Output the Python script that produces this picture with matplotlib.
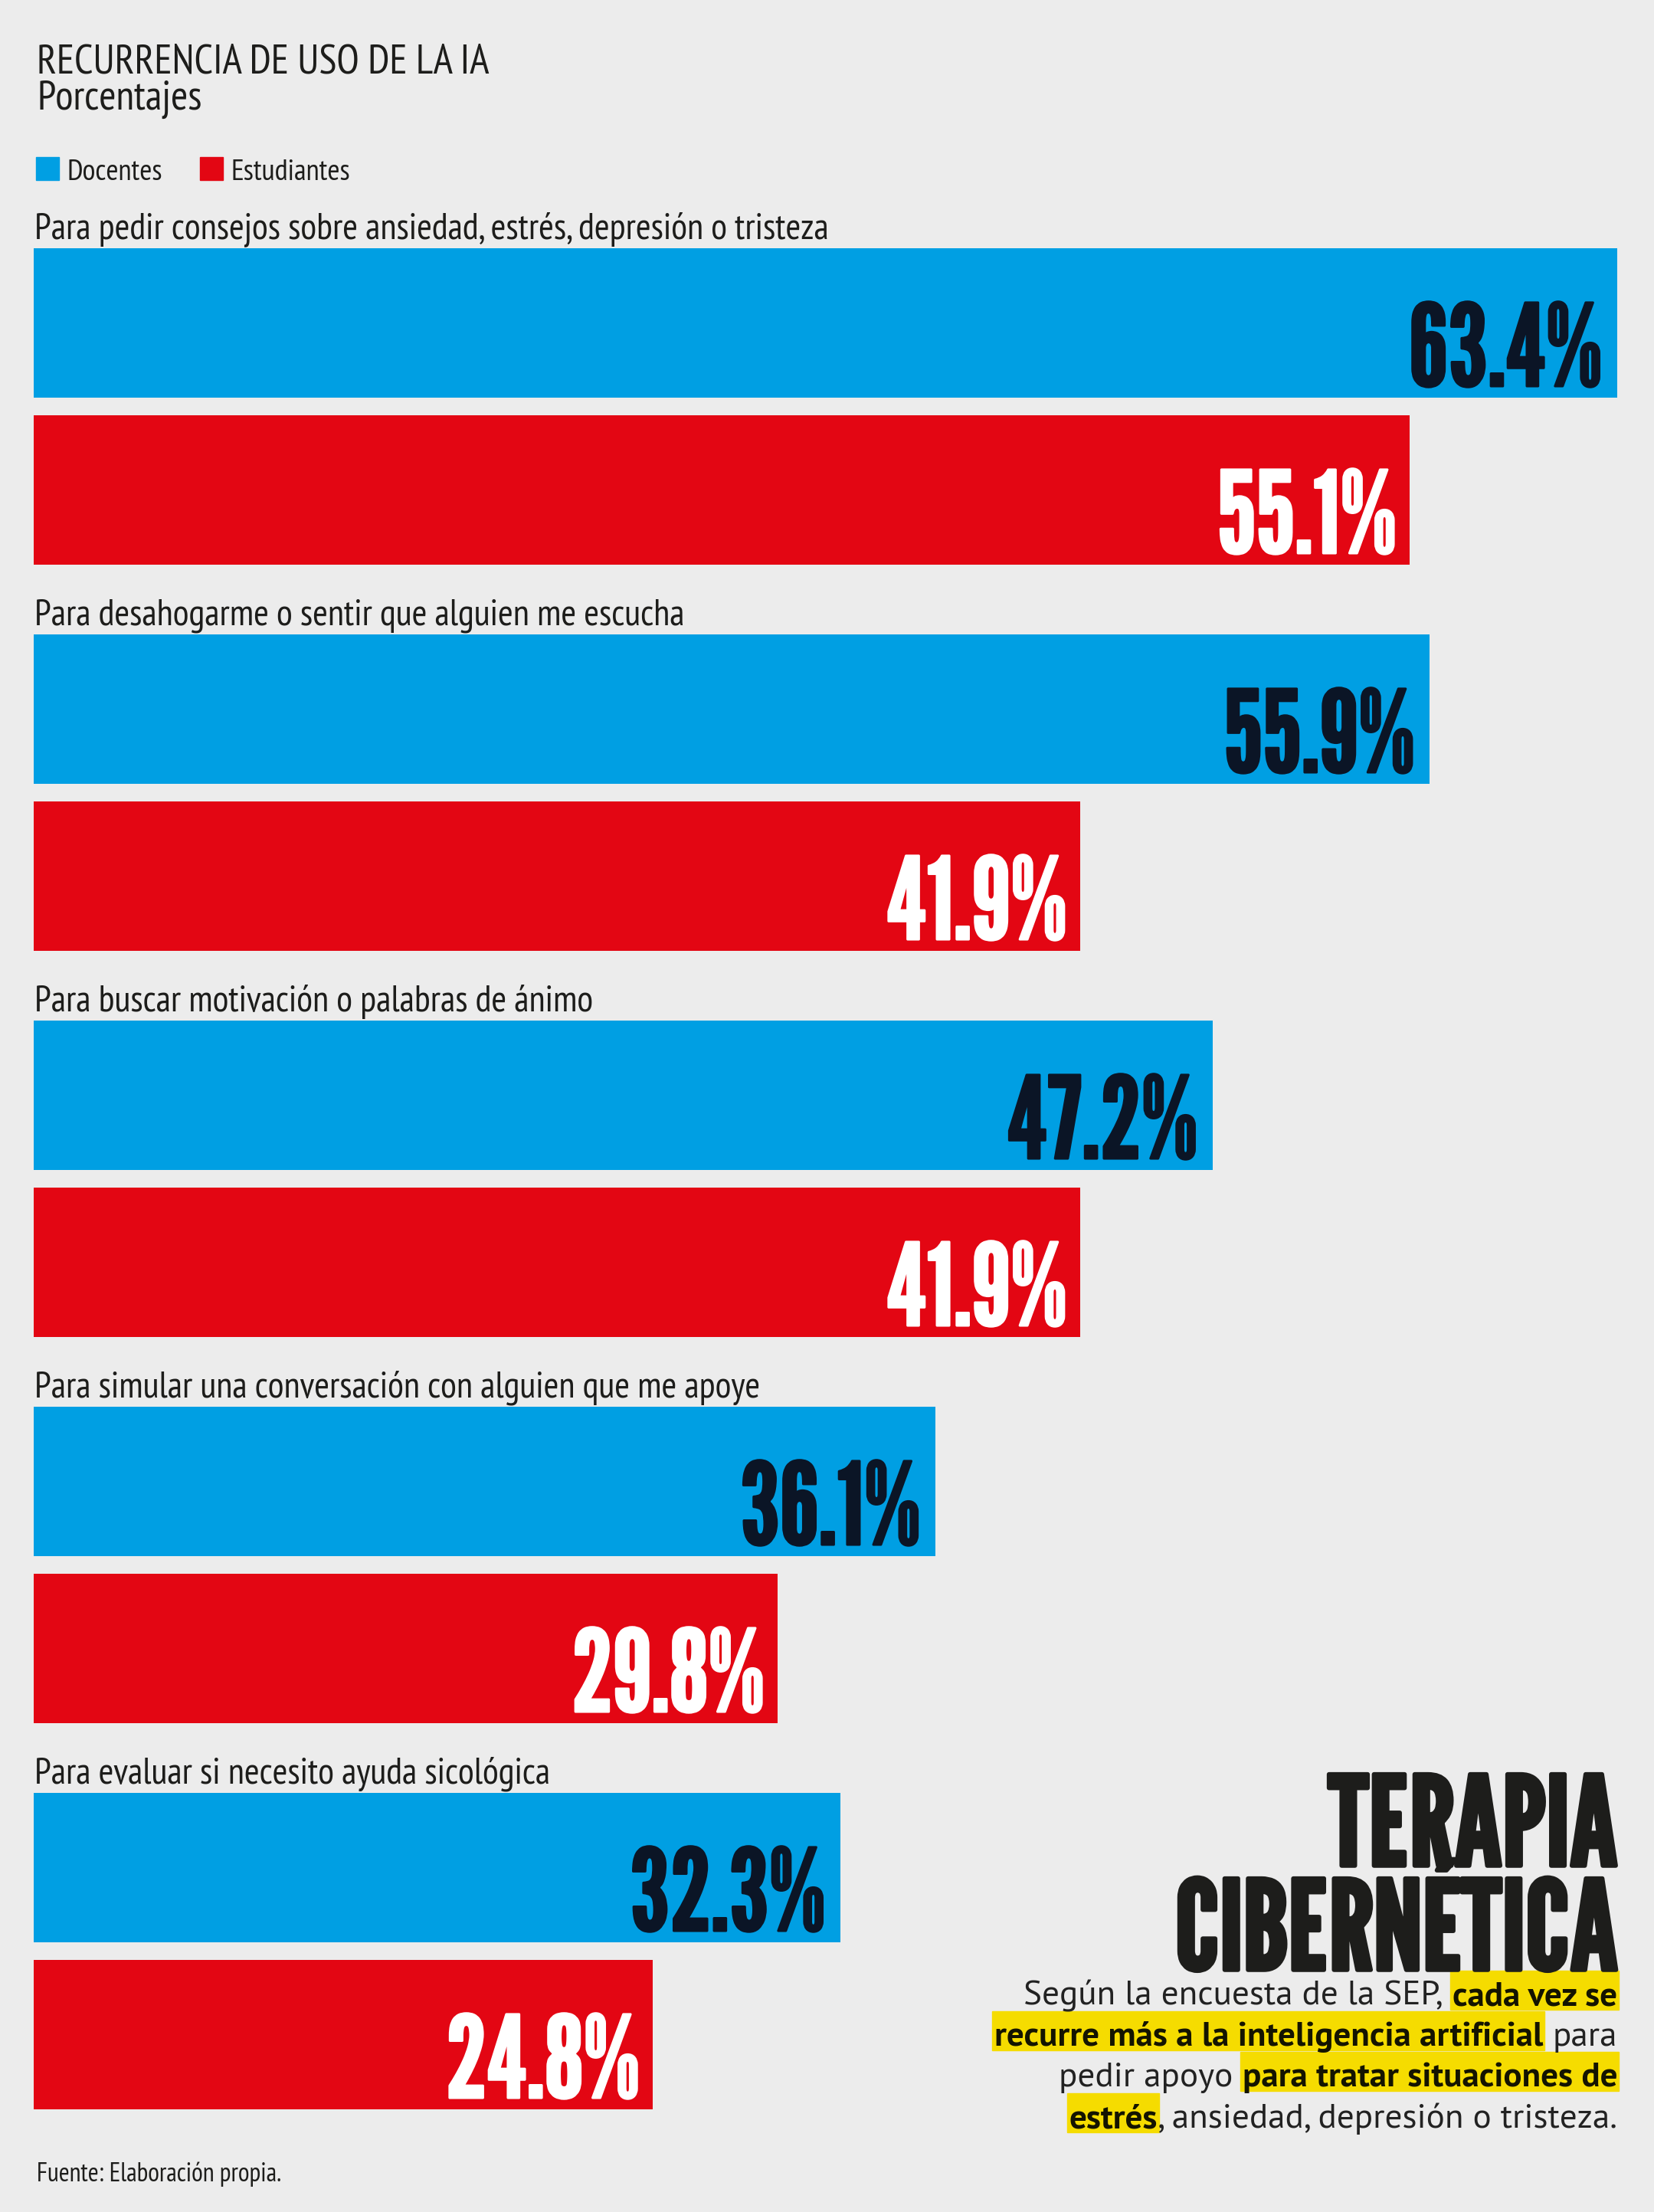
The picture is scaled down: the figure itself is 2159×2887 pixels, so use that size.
import matplotlib
matplotlib.use("Agg")
import matplotlib.pyplot as plt
import matplotlib.patheffects as pe
from matplotlib.patches import Rectangle
from matplotlib.transforms import Affine2D

# datos
categorias = [
    "Para pedir consejos sobre ansiedad, estrés, depresión o tristeza",
    "Para desahogarme o sentir que alguien me escucha",
    "Para buscar motivación o palabras de ánimo",
    "Para simular una conversación con alguien que me apoye",
    "Para evaluar si necesito ayuda sicológica",
]
docentes = [63.4, 55.9, 47.2, 36.1, 32.3]
estudiantes = [55.1, 41.9, 41.9, 29.8, 24.8]
series = ["Docentes", "Estudiantes"]

titulo = "RECURRENCIA DE USO DE LA IA"
subtitulo = "Porcentajes"
fuente = "Fuente: Elaboración propia."
titular = ["TERAPIA", "CIBERNÉTICA"]
# (texto, negrita)
parrafo = [
    [("Según la encuesta de la SEP,", False), ("cada vez se", True)],
    [("recurre más a la inteligencia artificial", True), ("para", False)],
    [("pedir apoyo", False), ("para tratar situaciones de", True)],
    [("estrés", True), (", ansiedad, depresión o tristeza.", False)],
]

AZUL = "#009fe3"
ROJO = "#e30613"
FONDO = "#ececec"
OSCURO = "#0b1526"
TINTA = "#1d1d1b"
AMARILLO = "#f5dc00"

ETIQ = "PT Sans Narrow"
PARR = "PT Sans"
GRUESA = "League Gothic"

W, H = 2159, 2887
fig = plt.figure(figsize=(W / 100, H / 100), dpi=100)
fig.patch.set_facecolor(FONDO)
r = fig.canvas.get_renderer()
T = Affine2D().scale(1, -1).translate(0, H)  # pixeles desde arriba


def ancho(t):
    return t.get_window_extent(r).width


def ajustar(t, objetivo):
    for _ in range(2):
        t.set_fontsize(t.get_fontsize() * objetivo / ancho(t))
    return t.get_fontsize()


def grueso(lw, col):
    return [pe.withStroke(linewidth=lw, foreground=col)]


# eje de barras: 1% = 32.6 px, x=0 en 44 px; 1 unidad y = un grupo (504 px)
ax = fig.add_axes([0, 0, 1, 1])
ax.set_facecolor("none")
ax.set_xlim(-44 / 32.6, (W - 44) / 32.6)
ax.set_ylim((H - 324) / 504, -324 / 504)
ax.axis("off")

alto = 195 / 504
desfase = 218 / 504
LW = 2.2  # pt, engrosa la fuente de las cifras
lw_px = LW * 100 / 72

# tamanos ajustados al ancho medido en la referencia
t = fig.text(0, 0, categorias[0], fontsize=28, family=ETIQ)
tam_etiq = ajustar(t, 1036)
t.remove()
t = fig.text(0, 0, f"{docentes[0]}%", fontsize=70, family=GRUESA)
tam_cifra = ajustar(t, 256 - lw_px)
t.remove()

for i, (cat, d, e) in enumerate(zip(categorias, docentes, estudiantes)):
    ax.barh(i, d, height=alto, align="edge", color=AZUL)
    ax.barh(i + desfase, e, height=alto, align="edge", color=ROJO)
    ax.text(0.03, i - 12 / 504, cat, fontsize=tam_etiq, family=ETIQ, color=TINTA, va="baseline")
    ax.text(d - (17 + lw_px / 2) / 32.6, i + alto - 15 / 504, f"{d}%", fontsize=tam_cifra,
            family=GRUESA, color=OSCURO, ha="right", va="baseline",
            path_effects=grueso(LW, OSCURO))
    ax.text(e - (15 + lw_px / 2) / 32.6, i + desfase + alto - 15 / 504, f"{e}%", fontsize=tam_cifra,
            family=GRUESA, color="white", ha="right", va="baseline",
            path_effects=grueso(LW, "white"))

# encabezado
t = fig.text(48, 95, titulo, transform=T, fontsize=28, family=ETIQ, color=TINTA)
tam_tit = ajustar(t, 591)
fig.text(48, 142, subtitulo, transform=T, fontsize=tam_tit, family=ETIQ, color=TINTA)

t = fig.text(0, 0, series[1], fontsize=20, family=ETIQ)
tam_ley = ajustar(t, 156)
t.remove()
for nombre, col, x0 in zip(series, [AZUL, ROJO], [47, 261]):
    fig.add_artist(Rectangle((x0, 235), 30, -30, transform=T, color=col))
    fig.text(x0 + 41, 235, nombre, transform=T, fontsize=tam_ley, family=ETIQ, color=TINTA)

t = fig.text(48, 2847, fuente, transform=T, fontsize=15, family=ETIQ, color=TINTA)
ajustar(t, 320)

# titular
t2 = fig.text(2112, 2571, titular[1], transform=T, fontsize=80, family=GRUESA,
              color=TINTA, ha="right", path_effects=grueso(4, TINTA))
tam_titular = ajustar(t2, 584 - 4 * 100 / 72)
fig.text(2112, 2435, titular[0], transform=T, fontsize=tam_titular, family=GRUESA,
         color=TINTA, ha="right", path_effects=grueso(4, TINTA))

# parrafo con resaltado
esp_a = fig.text(0, 0, "a a", fontsize=26, family=PARR)
esp_b = fig.text(0, 0, "aa", fontsize=26, family=PARR)
esp26 = ancho(esp_a) - ancho(esp_b)
esp_a.remove()
esp_b.remove()


def ancho_linea(segs, tam, esp):
    total = 0
    for k, (s, negrita) in enumerate(segs):
        tt = fig.text(0, 0, s, fontsize=tam, family=PARR, weight="bold" if negrita else "normal")
        total += ancho(tt)
        tt.remove()
        if k > 0 and not s.startswith(","):
            total += esp
    return total


tam_parr = 26 * 813 / ancho_linea(parrafo[1], 26, esp26)
esp = esp26 * tam_parr / 26

bases = [2617, 2670, 2723, 2777]
for segs, yb in zip(parrafo, bases):
    x = 2111
    for s, negrita in reversed(segs):
        tt = fig.text(x, yb, s, transform=T, fontsize=tam_parr, family=PARR,
                      weight="bold" if negrita else "normal",
                      color="#141400" if negrita else "#222222", ha="right", zorder=3)
        w = ancho(tt)
        if negrita:
            fig.add_artist(Rectangle((x - w - 3, yb + 6), w + 5, -51, transform=T,
                                     color=AMARILLO, zorder=1))
        x -= w
        if not s.startswith(","):
            x -= esp

fig.savefig("out.png", dpi=100, facecolor=FONDO)
